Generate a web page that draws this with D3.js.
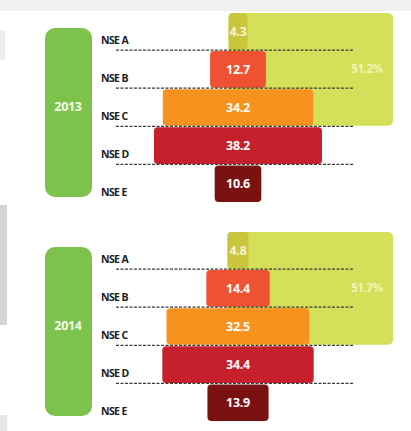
<!DOCTYPE html>
<html><head><meta charset="utf-8">
<script src="https://cdn.jsdelivr.net/npm/d3@7"></script>
<style>body{margin:0;background:#fff;}svg{display:block;}</style>
</head><body>
<script>
const years = ["2013", "2014"];
const categories = ["NSE A", "NSE B", "NSE C", "NSE D", "NSE E"];
const values2013 = [4.3, 12.7, 34.2, 38.2, 10.6];
const values2014 = [4.8, 14.4, 32.5, 34.4, 13.9];
const topShare = [51.2, 51.7];
const barColors = ["#c9c53c", "#ee5232", "#f7921e", "#c5202b", "#7b1212"];

const W = 411, H = 431;
const svg = d3.select("body").append("svg").attr("width", W).attr("height", H);

// background details
svg.append("rect").attr("x", 0).attr("y", 0).attr("width", W).attr("height", 11).attr("fill", "#f0f1f0");
svg.append("rect").attr("x", 0).attr("y", 30).attr("width", 5).attr("height", 30).attr("fill", "#eceeec");
svg.append("rect").attr("x", 0).attr("y", 205).attr("width", 7).attr("height", 120).attr("fill", "#d3d7d3");
svg.append("rect").attr("x", 0).attr("y", 415).attr("width", 7).attr("height", 16).attr("fill", "#e6e8e6");

const x = d3.scaleLinear().domain([0, 40]).range([0, 176]);
const cx = 238;
const bigRight = 393;

const panels = [
  {year: years[0], values: values2013, share: topShare[0], top: 13},
  {year: years[1], values: values2014, share: topShare[1], top: 232}
];

panels.forEach(p => {
  const g = svg.append("g").attr("transform", `translate(0,${p.top})`);
  const y = d3.scaleBand().domain(categories).range([0, 189]).paddingInner(0.04);

  // year pill
  g.append("rect").attr("x", 45).attr("y", 15).attr("width", 47).attr("height", 169)
    .attr("rx", 10).attr("fill", "#7cc24c");
  g.append("text").attr("x", 68).attr("y", 98).attr("text-anchor", "middle")
    .attr("fill", "#f4fbe8").attr("font-family", "Open Sans").attr("font-weight", 700)
    .attr("font-size", 12.5).attr("letter-spacing", -0.3).text(p.year);

  // big share rect covering A-C
  const aLeft = cx - x(p.values[0]) / 2;
  g.append("rect").attr("x", aLeft).attr("y", y("NSE A"))
    .attr("width", bigRight - aLeft).attr("height", y("NSE C") + y.bandwidth() - y("NSE A"))
    .attr("rx", 5).attr("fill", "#d5e05a");
  g.append("text").attr("x", 367).attr("y", (y("NSE B") + y.bandwidth() / 2) + 4)
    .attr("text-anchor", "middle").attr("fill", "#eef4b6")
    .attr("font-family", "Open Sans").attr("font-weight", 700).attr("font-size", 11.5)
    .attr("letter-spacing", -0.4).text(p.share + "%");

  // bars
  g.selectAll("rect.bar").data(p.values).enter().append("rect").attr("class", "bar")
    .attr("x", d => cx - x(d) / 2).attr("y", (d, i) => y(categories[i]))
    .attr("width", d => x(d)).attr("height", y.bandwidth())
    .attr("rx", 4).attr("fill", (d, i) => barColors[i]);

  // dashed separators
  categories.slice(0, 4).forEach(c => {
    g.append("line").attr("x1", 116).attr("x2", 353)
      .attr("y1", y(c) + y.step() - 1).attr("y2", y(c) + y.step() - 1)
      .attr("stroke", "#3a3a3a").attr("stroke-width", 1.3).attr("stroke-dasharray", "3,1.5");
  });

  // category labels
  g.selectAll("text.cat").data(categories).enter().append("text").attr("class", "cat")
    .attr("x", 101).attr("y", c => y(c) + y.bandwidth() - 6)
    .attr("fill", "#1c1c1c").attr("font-family", "Open Sans").attr("font-weight", 700)
    .attr("font-size", 10.5).attr("letter-spacing", -0.6).text(c => c);

  // value labels
  g.selectAll("text.val").data(p.values).enter().append("text").attr("class", "val")
    .attr("x", cx).attr("y", (d, i) => y(categories[i]) + y.bandwidth() / 2 + 4.5)
    .attr("text-anchor", "middle").attr("fill", (d, i) => i === 0 ? "#f3f5d0" : "#fff")
    .attr("font-family", "Open Sans").attr("font-weight", 700).attr("font-size", 12.5)
    .attr("letter-spacing", -0.3).text(d => d);
});
</script>
</body></html>
